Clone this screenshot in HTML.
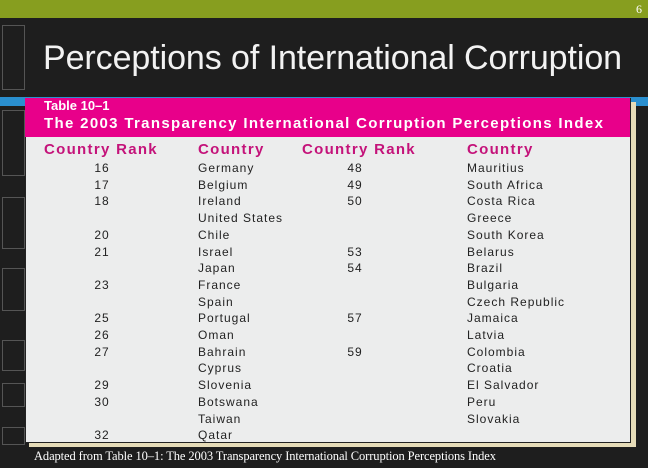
<!DOCTYPE html>
<html><head><meta charset="utf-8"><style>
body{margin:0;width:648px;height:468px;background:#1e1e1e;position:relative;overflow:hidden;font-family:"Liberation Sans",sans-serif}
.a{position:absolute}
.box{position:absolute;left:2px;width:21px;border:1px solid #555}
.r{position:absolute;font-size:12px;color:#222;letter-spacing:1px;white-space:nowrap}
.h{position:absolute;font-size:15px;font-weight:bold;color:#c4137a;letter-spacing:1.3px;white-space:nowrap}
</style></head><body>
<div class="a" style="left:0;top:0;width:648px;height:18px;background:#879e1f"></div>
<div class="a" style="right:6px;top:2px;font-family:'Liberation Serif',serif;font-size:12px;color:#fff">6</div>
<div class="box" style="top:25px;height:63px"></div>
<div class="box" style="top:110px;height:64px"></div>
<div class="box" style="top:197px;height:50px"></div>
<div class="box" style="top:268px;height:41px"></div>
<div class="box" style="top:340px;height:29px"></div>
<div class="box" style="top:383px;height:22px"></div>
<div class="box" style="top:427px;height:16px"></div>
<div class="a" style="left:43px;top:39px;font-size:34px;color:#f2f2f2;letter-spacing:-0.08px;white-space:nowrap">Perceptions of International Corruption</div>
<div class="a" style="left:0;top:97px;width:648px;height:9px;background:#2a8fcf"></div>
<div class="a" style="left:29px;top:102px;width:607px;height:345px;background:#e6dcb8"></div>
<div class="a" style="left:25px;top:98px;width:604px;height:344px;background:#eceded;border:1px solid #222;border-top:none"></div>
<div class="a" style="left:25px;top:98px;width:605px;height:39px;background:#e8008a"></div>
<div class="a" style="left:44px;top:98px;font-size:13px;font-weight:bold;color:#fff">Table 10–1</div>
<div class="a" style="left:44px;top:115px;font-size:15px;font-weight:bold;color:#fff;letter-spacing:1.33px;white-space:nowrap">The 2003 Transparency International Corruption Perceptions Index</div>
<div class="h" style="left:44px;top:141px">Country Rank</div>
<div class="h" style="left:198px;top:141px">Country</div>
<div class="h" style="left:302px;top:141px">Country Rank</div>
<div class="h" style="left:467px;top:141px">Country</div>
<div id="rows"></div>
<div class="a" style="left:34px;top:449px;font-family:'Liberation Serif',serif;font-size:12.5px;color:#fff;letter-spacing:-0.1px;white-space:nowrap">Adapted from Table 10–1: The 2003 Transparency International Corruption Perceptions Index</div>
<script>
const rank1=["16","17","18","","20","21","","23","","25","26","27","","29","30","","32"];
const country1=["Germany","Belgium","Ireland","United States","Chile","Israel","Japan","France","Spain","Portugal","Oman","Bahrain","Cyprus","Slovenia","Botswana","Taiwan","Qatar"];
const rank2=["48","49","50","","","53","54","","","57","","59","","","","",""];
const country2=["Mauritius","South Africa","Costa Rica","Greece","South Korea","Belarus","Brazil","Bulgaria","Czech Republic","Jamaica","Latvia","Colombia","Croatia","El Salvador","Peru","Slovakia",""];
const c=document.getElementById('rows');
function add(txt,x,y,name,center){
  const d=document.createElement('div');
  d.className='r';d.textContent=txt;
  d.style.top=y+'px';
  if(center){d.style.left=(x-20)+'px';d.style.width='40px';d.style.textAlign='center';}else d.style.left=x+'px';
  
  
  c.appendChild(d);
}
for(let i=0;i<country1.length;i++){
  const y=161+i*16.7;
  add(rank1[i],102,y,'rank-cell',true);
  add(country1[i],198,y,'country-cell',false);
  add(rank2[i],355,y,'rank-cell',true);
  add(country2[i],467,y,'country-cell',false);
}
</script>
</body></html>
